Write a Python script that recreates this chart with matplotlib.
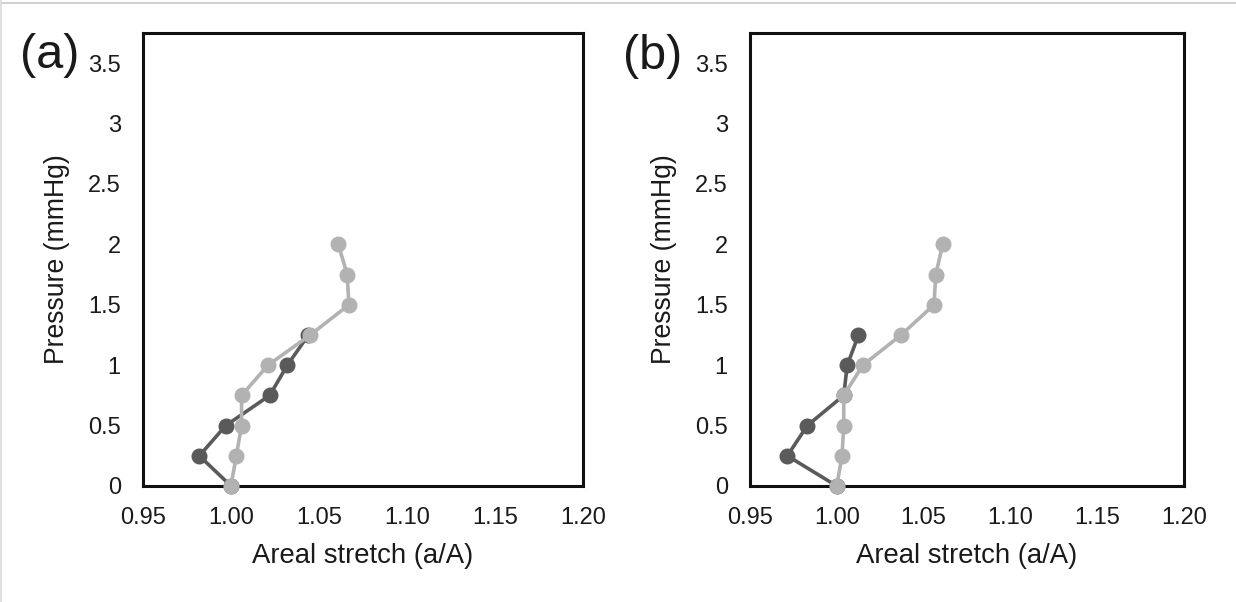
import matplotlib
matplotlib.use('Agg')
import matplotlib.pyplot as plt
from matplotlib.lines import Line2D

plt.rcParams['font.family'] = ['Liberation Sans', 'DejaVu Sans']

pressure = [0, 0.25, 0.5, 0.75, 1.0, 1.25, 1.5, 1.75, 2.0]
x_ticks = [0.95, 1.00, 1.05, 1.10, 1.15, 1.20]
y_ticks = [0, 0.5, 1, 1.5, 2, 2.5, 3, 3.5]
y_tick_labels = ['0', '0.5', '1', '1.5', '2', '2.5', '3', '3.5']

# panel (a)
a_dark = [1.000, 0.982, 0.997, 1.022, 1.032, 1.044]
a_light = [1.000, 1.003, 1.006, 1.006, 1.021, 1.045, 1.067, 1.066, 1.061]
# panel (b)
b_dark = [1.000, 0.9715, 0.983, 1.004, 1.006, 1.0125]
b_light = [1.000, 1.003, 1.004, 1.004, 1.015, 1.037, 1.056, 1.057, 1.061]

DARK = '#5a5a5a'
LIGHT = '#b2b2b2'
TXT = '#1a1a1a'

fig = plt.figure(figsize=(12.36, 6.02), dpi=100)
positions = [[143 / 1236, 1 - 486 / 602, 440 / 1236, 453 / 602],
             [750 / 1236, 1 - 486 / 602, 434 / 1236, 453 / 602]]
panels = [('(a)', a_dark, a_light, 20 / 1236, 67.5), ('(b)', b_dark, b_light, 623 / 1236, 69)]

for pos, (tag, dark, light, tx, ty) in zip(positions, panels):
    ax = fig.add_axes(pos)
    ax.plot(dark, pressure[:len(dark)], color=DARK, lw=2.6, marker='o', ms=10.5,
            clip_on=False, zorder=3)
    ax.plot(light, pressure[:len(light)], color=LIGHT, lw=2.6, marker='o', ms=10.5,
            clip_on=False, zorder=4)
    ax.set_xlim(0.95, 1.20)
    ax.set_ylim(0, 3.75)
    ax.set_xticks(x_ticks)
    ax.set_xticklabels([f'{v:.2f}' for v in x_ticks])
    ax.set_yticks(y_ticks)
    ax.set_yticklabels(y_tick_labels)
    ax.tick_params(length=0, labelsize=17, colors=TXT)
    ax.tick_params(axis='x', pad=15)
    ax.tick_params(axis='y', pad=16)
    for s in ax.spines.values():
        s.set_linewidth(2.2)
        s.set_color('#111111')
    ax.set_xlabel('Areal stretch (a/A)', fontsize=19.8, color=TXT, labelpad=10)
    ax.set_ylabel('Pressure (mmHg)', fontsize=19.2, color=TXT, labelpad=13)
    fig.text(tx, 1 - ty / 602, tag, fontsize=35, color=TXT, ha='left', va='baseline')

# faint frame edges from the original scan
fig.add_artist(Line2D([0, 1], [1 - 2.5 / 602, 1 - 2.5 / 602], color='#c8c8c8', lw=1.2,
                      transform=fig.transFigure))
fig.add_artist(Line2D([1.5 / 1236, 1.5 / 1236], [0, 1], color='#dcdcdc', lw=1.2,
                      transform=fig.transFigure))

fig.savefig('out.png', dpi=100)
